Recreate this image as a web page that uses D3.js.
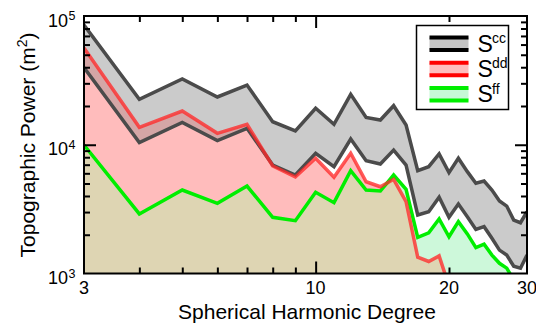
<!DOCTYPE html>
<html>
<head>
<meta charset="utf-8">
<script src="https://cdn.jsdelivr.net/npm/d3@7"></script>
<style>
  html, body { margin: 0; padding: 0; background: #fff; }
  svg { display: block; font-family: "Liberation Sans", Arial, Helvetica, sans-serif; }
</style>
</head>
<body>
<svg id="chart" width="536" height="328"></svg>
<script>
// spherical harmonic degree vs topographic power, log-log
const degrees = d3.range(3, 31);

// S^cc band (upper / lower bound), degrees 3..30
const sccUpper = [85100, 22540, 32400, 23500, 29100, 15100, 12790, 19190, 14420, 24650,
  16290, 15570, 20100, 14240, 6290, 6750, 8480, 6070, 7850, 6180,
  5020, 5230, 4450, 3660, 3340, 2600, 2480, 3020];
const sccLower = [39700, 10410, 14890, 10790, 13420, 6960, 5820, 8590, 6750, 11080,
  7520, 7090, 9100, 6960, 2850, 3020, 3910, 2730, 3470, 2760,
  2200, 2310, 1880, 1520, 1390, 1140, 1100, 1390];
// S^dd, degrees 3..20 (drops under the axis after 19)
const sdd = [56430, 13660, 18290, 12270, 14420, 6840, 5620, 7850, 5590, 8590,
  5160, 4720, 5390, 3610, 1340, 1240, 1370, 800];
// S^ff, degrees 3..28
const sff = [9960, 2900, 4450, 3510, 4780, 2730, 2570, 4270, 3550, 6290,
  4450, 4370, 5820, 4510, 1910, 2070, 2650, 1930, 2530, 2030,
  1590, 1690, 1390, 1200, 1100, 890];

const xMinor = [4, 5, 6, 7, 8, 9, 20];
const xMajor = [10];
const xLabels = [3, 10, 20, 30];
const yMinor = [2, 3, 4, 5, 6, 7, 8, 9].flatMap((m) => [m * 1e3, m * 1e4]);
const yMajor = [1e3, 1e4, 1e5];
const yExp = [3, 4, 5];

const legendItems = [
  { sup: "cc", line: "#000", fill: "#c4c4c4" },
  { sup: "dd", line: "#ff0000", fill: "#ffbcbc" },
  { sup: "ff", line: "#00ee00", fill: "#c6f8d6" },
];

const L = 84, R = 527, T = 16, B = 273.5;
const svg = d3.select("#chart");
const x = d3.scaleLog().domain([3, 30]).range([L, R]);
const y = d3.scaleLog().domain([1e3, 1e5]).range([B, T]);

const defs = svg.append("defs");
defs.append("clipPath").attr("id", "plot")
  .append("rect").attr("x", L).attr("y", T).attr("width", R - L).attr("height", B - T);

const pts = (vals) => vals.map((v, i) => [degrees[i], v]);
const under = d3.area().x((d) => x(d[0])).y0(B + 40).y1((d) => y(d[1]));
const band = d3.area().x((d, i) => x(degrees[i])).y0((d) => y(d[0])).y1((d) => y(d[1]));
const line = d3.line().x((d) => x(d[0])).y((d) => y(d[1]));

const pinkD = under(pts(sdd));
const greenD = under(pts(sff));
const grayD = band(sccLower.map((v, i) => [v, sccUpper[i]]));

defs.append("clipPath").attr("id", "underGreen").append("path").attr("d", greenD);
defs.append("clipPath").attr("id", "underPink").append("path").attr("d", pinkD);

const g = svg.append("g").attr("clip-path", "url(#plot)");
g.append("path").attr("d", pinkD).attr("fill", "#ffbcbc");
g.append("path").attr("d", greenD).attr("fill", "#cdf8da");
// overlap of the two fills
g.append("g").attr("clip-path", "url(#underGreen)")
  .append("path").attr("d", pinkD).attr("fill", "#ded5b3");
g.append("path").attr("d", grayD).attr("fill", "#cbcbcb");
g.append("g").attr("clip-path", "url(#underPink)")
  .append("path").attr("d", grayD).attr("fill", "#d4a6a6");

const lw = 3.5;
g.append("path").attr("d", line(pts(sccUpper))).attr("fill", "none")
  .attr("stroke", "#4b4b4b").attr("stroke-width", lw).attr("stroke-linejoin", "miter");
g.append("path").attr("d", line(pts(sccLower))).attr("fill", "none")
  .attr("stroke", "#4b4b4b").attr("stroke-width", lw);
g.append("path").attr("d", line(pts(sff))).attr("fill", "none")
  .attr("stroke", "#00ee00").attr("stroke-width", lw);
g.append("path").attr("d", line(pts(sdd))).attr("fill", "none")
  .attr("stroke", "#ff2a2a").attr("stroke-opacity", 0.78).attr("stroke-width", lw);

// ---- ticks (all pointing inward) ----
function ticks(axis, vals, size, tx, ty) {
  const a = svg.append("g").attr("transform", `translate(${tx},${ty})`)
    .call(axis.tickValues(vals).tickSize(size).tickFormat(""));
  a.select(".domain").remove();
  a.selectAll("line").attr("stroke", "#000").attr("stroke-width", 2);
}
ticks(d3.axisBottom(x), xMinor, -6, 0, B);
ticks(d3.axisBottom(x), xMajor, -12, 0, B);
ticks(d3.axisTop(x), xMinor, -6, 0, T);
ticks(d3.axisTop(x), xMajor, -12, 0, T);
ticks(d3.axisLeft(y), yMinor, -6, L, 0);
ticks(d3.axisLeft(y), [1e4], -12, L, 0);
ticks(d3.axisRight(y), yMinor, -6, R, 0);
ticks(d3.axisRight(y), [1e4], -12, R, 0);

svg.append("rect").attr("x", L).attr("y", T).attr("width", R - L).attr("height", B - T)
  .attr("fill", "none").attr("stroke", "#000").attr("stroke-width", 2);

// ---- tick labels ----
svg.append("g").selectAll("text").data(xLabels).join("text")
  .attr("x", (d) => x(d)).attr("y", 294).attr("text-anchor", "middle")
  .attr("font-size", 18).text((d) => d);

const yl = svg.append("g").selectAll("g").data(yMajor).join("g");
yl.append("text").attr("x", 68).attr("y", (d) => y(d) + 10.5)
  .attr("text-anchor", "end").attr("font-size", 18).text("10");
yl.append("text").attr("x", 68.5).attr("y", (d) => y(d) + 4)
  .attr("font-size", 12.5).text((d, i) => yExp[i]);

// ---- axis titles ----
svg.append("text").attr("x", 307).attr("y", 318.5).attr("text-anchor", "middle")
  .attr("font-size", 21).text("Spherical Harmonic Degree");
const yt = svg.append("text").attr("transform", "translate(34.5,145) rotate(-90)")
  .attr("text-anchor", "middle").attr("font-size", 21);
yt.append("tspan").text("Topographic Power (m");
yt.append("tspan").attr("font-size", 14).attr("dy", -8).text("2");
yt.append("tspan").attr("dy", 8).text(")");

// ---- legend ----
const lg = svg.append("g");
lg.append("rect").attr("x", 416.5).attr("y", 25.5).attr("width", 92).attr("height", 84)
  .attr("fill", "#fff").attr("stroke", "#000").attr("stroke-width", 1.5);
const li = lg.selectAll("g.item").data(legendItems).join("g")
  .attr("transform", (d, i) => `translate(0,${i * 25.2})`);
li.append("rect").attr("x", 429.5).attr("y", 37.5).attr("width", 39).attr("height", 12.5)
  .attr("fill", (d) => d.fill);
li.append("line").attr("x1", 429.5).attr("x2", 468.5).attr("y1", 37.5).attr("y2", 37.5)
  .attr("stroke", (d) => d.line).attr("stroke-width", 4);
li.append("line").attr("x1", 429.5).attr("x2", 468.5).attr("y1", 50).attr("y2", 50)
  .attr("stroke", (d) => d.line).attr("stroke-width", 4);
li.append("text").attr("x", 477.5).attr("y", 51.5).attr("font-size", 23).text("S");
li.append("text").attr("x", 492).attr("y", 43.3).attr("font-size", 14).text((d) => d.sup);
</script>
</body>
</html>
